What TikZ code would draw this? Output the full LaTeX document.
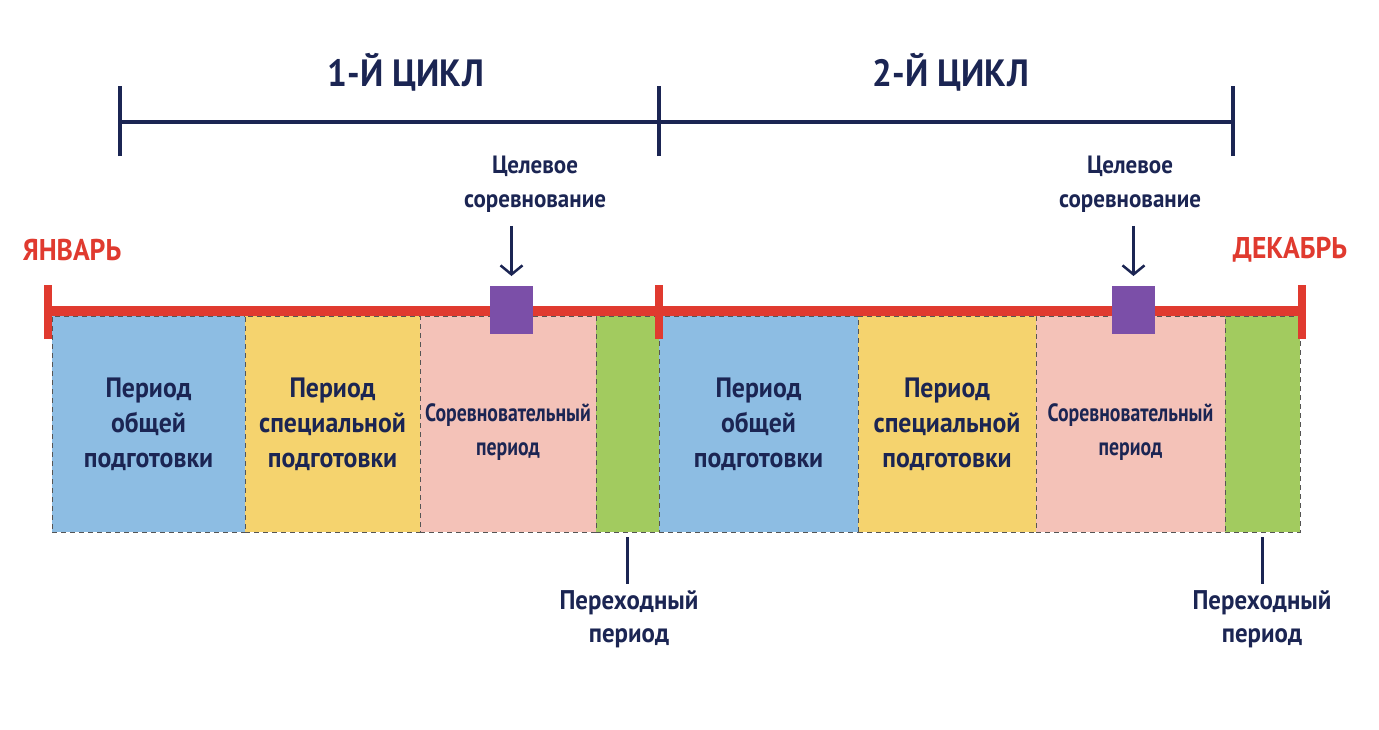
\documentclass[tikz,border=0pt]{standalone}
\usepackage{fontspec}
\setmainfont{PT Sans}
\newfontfamily\condfont[FakeStretch=0.92]{PT Sans}
\newfontfamily\narrowfont[FakeStretch=0.79]{PT Sans}
\usetikzlibrary{arrows.meta}
\definecolor{navy}{HTML}{1B2553}
\definecolor{tred}{HTML}{E03A2F}
\definecolor{pblue}{HTML}{8DBDE3}
\definecolor{pyellow}{HTML}{F5D36E}
\definecolor{ppink}{HTML}{F4C2B8}
\definecolor{pgreen}{HTML}{A2CB5F}
\definecolor{ppurple}{HTML}{7B4FA8}
\definecolor{dashgray}{HTML}{555555}
\tikzset{
  period/.style={draw=dashgray, dash pattern=on 5pt off 4pt, line width=1pt, inner sep=0pt, outer sep=0pt, anchor=north west,
    minimum height=216pt, text=navy, font=\condfont\bfseries\fontsize{28}{35}\selectfont, align=center},
  comptext/.style={text=navy, font=\narrowfont\bfseries\fontsize{25}{34}\selectfont, align=center, inner sep=0pt},
  target/.style={fill=ppurple, inner sep=0pt, outer sep=0pt, minimum width=43pt, minimum height=48pt},
  cyclelbl/.style={text=navy, font=\condfont\bfseries\fontsize{38}{40}\selectfont},
  monthlbl/.style={text=tred, font=\condfont\bfseries\fontsize{30}{32}\selectfont},
  goallbl/.style={text=navy, font=\condfont\bfseries\fontsize{25}{34}\selectfont, align=center},
  translbl/.style={goallbl, font=\condfont\bfseries\fontsize{27}{33}\selectfont},
  navyline/.style={draw=navy, line width=4pt},
  redline/.style={draw=tred, line width=10pt},
  redtick/.style={draw=tred, line width=8pt},
  goalarrow/.style={draw=navy, line width=2.5pt, -{Straight Barb[length=9pt,width=22pt,line width=2.5pt]}},
  transline/.style={draw=navy, line width=2.5pt}
}
\begin{document}
\begin{tikzpicture}[x=1pt,y=-1pt]
\useasboundingbox (0,0) rectangle (1379,729);
\fill[white] (0,0) rectangle (1379,729);
% cycle bar
\coordinate (c0) at (120,122);
\coordinate (c1) at (659,122);
\coordinate (c2) at (1233,122);
\draw[navyline] (c0) -- (c2);
\foreach \c in {c0,c1,c2} \draw[navyline] ([yshift=-34pt]\c) -- ([yshift=36pt]\c);
\node[cyclelbl] (cyc1) at (406,72) {1-Й ЦИКЛ};
\node[cyclelbl] (cyc2) at (951,72) {2-Й ЦИКЛ};
% period boxes
\node[period, fill=pblue, minimum width=193pt] (b1) at (52,316) {Период\\общей\\подготовки};
\node[period, fill=pyellow, minimum width=175pt] (b2) at (245,316) {Период\\специальной\\подготовки};
\node[period, fill=ppink, minimum width=176pt] (b3) at (420,316) {};
\node[period, fill=pgreen, minimum width=63pt] (b4) at (596,316) {};
\node[period, fill=pblue, minimum width=199pt] (b5) at (659,316) {Период\\общей\\подготовки};
\node[period, fill=pyellow, minimum width=178pt] (b6) at (858,316) {Период\\специальной\\подготовки};
\node[period, fill=ppink, minimum width=189pt] (b7) at (1036,316) {};
\node[period, fill=pgreen, minimum width=75pt] (b8) at (1225,316) {};
\node[comptext] (b3t) at ([yshift=-8pt]b3.center) {Соревновательный\\период};
\node[comptext] (b7t) at ([yshift=-8pt]b7.center) {Соревновательный\\период};
% red timeline
\coordinate (r0) at (48,311);
\coordinate (r1) at (659,311);
\coordinate (r2) at (1302,311);
\draw[redline] (r0) -- (r2);
\foreach \c in {r0,r1,r2} \draw[redtick] ([yshift=-28pt]\c) -- ([yshift=26pt]\c);
\node[monthlbl] (jan) at (72,250) {ЯНВАРЬ};
\node[monthlbl] (dec) at (1290,250) {ДЕКАБРЬ};
% targets
\node[target] (t1) at (511.5,310) {};
\node[target] (t2) at (1133.5,310) {};
\node[goallbl] (g1) at (535,184) {Целевое\\соревнование};
\node[goallbl] (g2) at (1130,184) {Целевое\\соревнование};
\draw[goalarrow, shorten >=10pt] (t1.north |- g1.south) ++(0,10) -- (t1.north);
\draw[goalarrow, shorten >=10pt] (t2.north |- g2.south) ++(0,10) -- (t2.north);
% transition labels
\node[translbl] (tr1) at (629,619) {Переходный\\период};
\node[translbl] (tr2) at (1262,619) {Переходный\\период};
\draw[transline, shorten <=5pt, shorten >=3pt] (b4.south) -- (b4.south |- tr1.north);
\draw[transline, shorten <=5pt, shorten >=3pt] (b8.south) -- (b8.south |- tr2.north);
\end{tikzpicture}
\end{document}
